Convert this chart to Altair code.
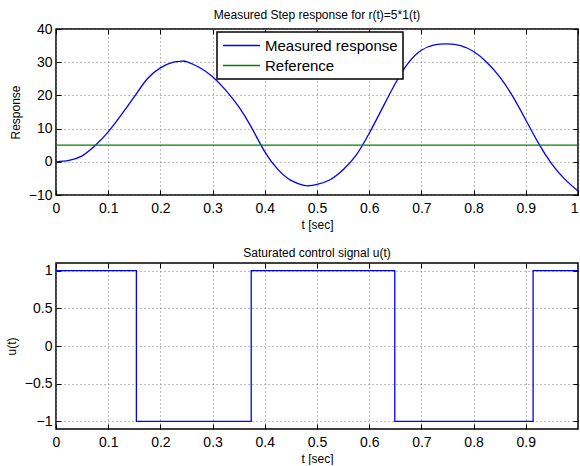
import altair as alt
import pandas as pd

# Measured step response y(t) for r(t) = 5*1(t)
t_resp = [0.0, 0.025, 0.05, 0.075, 0.1, 0.125, 0.15, 0.175, 0.2, 0.225, 0.24,
          0.25, 0.275, 0.3, 0.325, 0.35, 0.375, 0.4, 0.425, 0.45, 0.475, 0.485,
          0.5, 0.525, 0.55, 0.575, 0.6, 0.625, 0.65, 0.675, 0.7, 0.725, 0.75,
          0.775, 0.8, 0.825, 0.85, 0.875, 0.9, 0.925, 0.95, 0.975, 1.0]
y_resp = [0.0, 0.4, 1.8, 4.9, 9.0, 14.1, 19.6, 25.0, 28.3, 30.0, 30.3,
          30.2, 28.4, 25.6, 21.6, 16.6, 10.2, 3.0, -2.3, -5.6, -7.1, -7.2,
          -6.8, -5.4, -2.4, 2.0, 8.6, 16.1, 23.6, 29.8, 33.6, 35.2, 35.5,
          35.0, 33.2, 30.0, 25.6, 19.7, 12.6, 5.4, -0.7, -5.3, -8.8]
t_ref = [0.0, 1.0]
y_ref = [5.0, 5.0]

# Saturated control signal u(t): switching instants and levels
t_u = [0.0, 0.154, 0.374, 0.649, 0.914, 1.0]
u_vals = [1, -1, 1, -1, 1, 1]

series_names = ["Measured response", "Reference"]
series_colors = ["#0000ff", "#008000"]

x_ticks_top = [0, 0.1, 0.2, 0.3, 0.4, 0.5, 0.6, 0.7, 0.8, 0.9, 1.0]
x_ticks_bottom = [0, 0.1, 0.2, 0.3, 0.4, 0.5, 0.6, 0.7, 0.8, 0.9]
y_ticks_top = [-10, 0, 10, 20, 30, 40]
y_ticks_bottom = [-1, -0.5, 0, 0.5, 1]

FONT = "Liberation Sans"
W, H = 522, 166

top_df = pd.concat([
    pd.DataFrame({"t": t_resp, "value": y_resp, "series": series_names[0]}),
    pd.DataFrame({"t": t_ref, "value": y_ref, "series": series_names[1]}),
])
u_df = pd.DataFrame({"t": t_u, "value": u_vals})

# the label at the right end of the time axis is kept inside the page
edge_align = {"condition": {"test": "datum.value >= 1", "value": "right"},
              "value": "center"}


def panel(df, line, y_domain, x_ticks, y_ticks, title, y_title, title_offset):
    xs = alt.Scale(domain=[0, 1], nice=False, zero=False)
    ys = alt.Scale(domain=y_domain, nice=False, zero=False)

    main = line.encode(
        x=alt.X("t:Q", scale=xs, axis=alt.Axis(
            orient="bottom", values=x_ticks, format=".1~f", title="t [sec]",
            ticks=False, domain=False, grid=True, labelPadding=6,
            labelFlush=False, labelAlign=edge_align, titlePadding=4)),
        y=alt.Y("value:Q", scale=ys, axis=alt.Axis(
            orient="left", values=y_ticks, format=".1~f", title=y_title,
            ticks=False, domain=False, grid=True, labelPadding=4,
            titlePadding=6)),
    )

    def inner_ticks(xo, yo):
        return alt.Chart(df).mark_line(opacity=0).encode(
            x=alt.X("t:Q", scale=xs, axis=alt.Axis(
                orient=xo, values=x_ticks, labels=False, domain=False,
                grid=False, ticks=True, tickSize=5, offset=-5, title=None)),
            y=alt.Y("value:Q", scale=ys, axis=alt.Axis(
                orient=yo, values=y_ticks, labels=False, domain=False,
                grid=False, ticks=True, tickSize=5, offset=-5, title=None)),
        )

    return alt.layer(
        main, inner_ticks("bottom", "left"), inner_ticks("top", "right")
    ).resolve_axis(x="independent", y="independent").properties(
        width=W, height=H,
        title=alt.TitleParams(title, anchor="middle", offset=title_offset),
    )


top_line = alt.Chart(top_df).mark_line(strokeWidth=1.3, interpolate="natural").encode(
    color=alt.Color("series:N", sort=series_names,
                    scale=alt.Scale(domain=series_names, range=series_colors),
                    legend=alt.Legend(
                        title=None, orient="none", legendX=161, legendY=3,
                        symbolType="M-1,0H3.93", symbolSize=225,
                        symbolStrokeWidth=1.3, labelOffset=26,
                        labelFontSize=15, labelFont=FONT, labelColor="black",
                        fillColor="white", strokeColor="black", padding=5,
                        rowPadding=3)),
)
top = panel(top_df, top_line, [-10, 40], x_ticks_top, y_ticks_top,
            "Measured Step response for r(t)=5*1(t)", "Response", 0.5)

u_line = alt.Chart(u_df).mark_line(strokeWidth=1.3, interpolate="step-after",
                                   color="#0000ff")
bottom = panel(u_df, u_line, [-1.1, 1.1], x_ticks_bottom, y_ticks_bottom,
               "Saturated control signal u(t)", "u(t)", 3)

chart = alt.vconcat(top, bottom, spacing=14).properties(
    padding={"left": 4, "top": 7, "right": -2, "bottom": 0},
    background="white",
).configure_axis(
    labelFont=FONT, labelFontSize=14, labelColor="black",
    titleFont=FONT, titleFontSize=12, titleColor="black",
    titleFontWeight="normal", gridColor="#777777", gridDash=[1, 3],
    gridWidth=1, tickColor="black", tickWidth=1,
).configure_title(
    font=FONT, fontSize=12, fontWeight="normal", color="black",
).configure_view(
    stroke="black", strokeWidth=1.5,
).configure_legend(
    strokeWidth=1.5,
)

chart.save("out.html", embed_options={"renderer": "svg", "actions": False})
